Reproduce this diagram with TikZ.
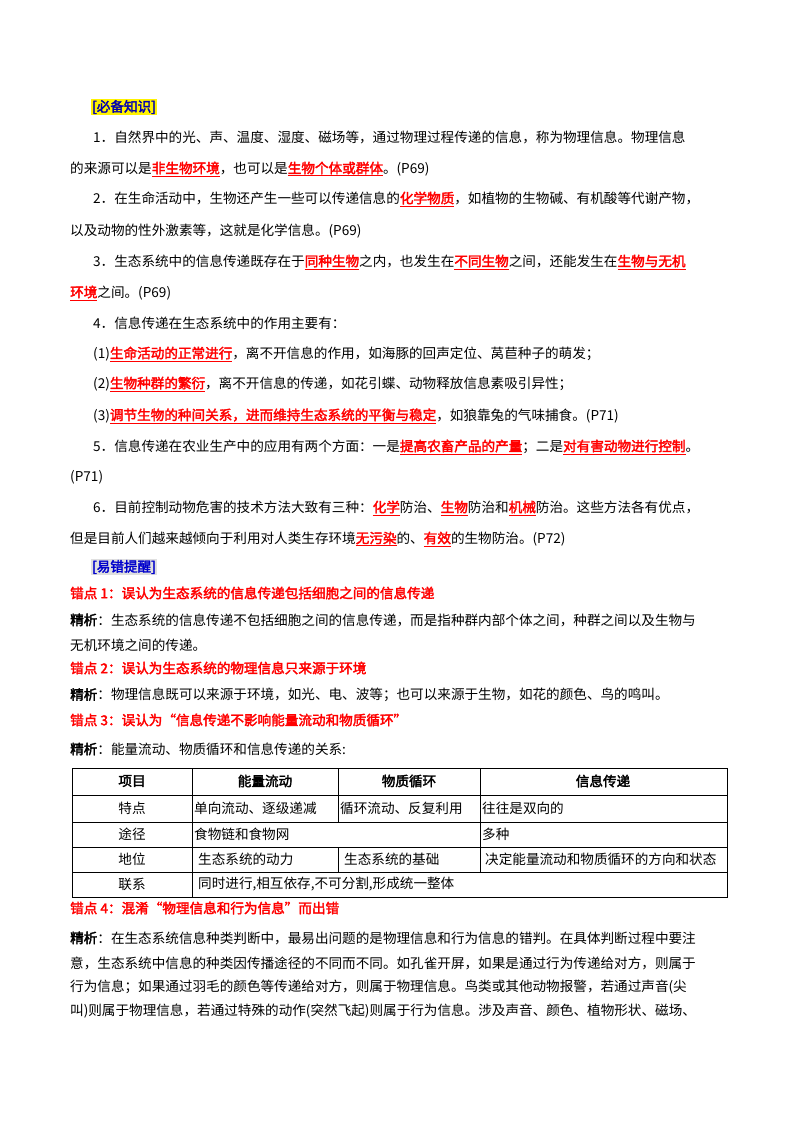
\documentclass[tikz,border=0pt]{standalone}
\usepackage{fontspec}
\setmainfont{Noto Sans CJK SC}[AutoFakeBold=2.5]
\XeTeXlinebreaklocale "zh"
\XeTeXlinebreakskip=0pt plus 2pt
\newcommand\kw[1]{\textcolor{red}{\underline{\textbf{#1}}}}
\newcommand\fl[2]{\makebox[#1pt][s]{#2}}
\begin{document}
\begin{tikzpicture}[x=1pt,y=-1pt,font=\fontsize{13.6}{16}\selectfont]
        \tikzstyle{every node}=[inner sep=0pt,anchor=west]
        \tikzstyle{err}=[text=red,font=\fontsize{13.6}{16}\selectfont\bfseries]
        \tikzstyle{cell}=[anchor=center]
        \tikzstyle{grid}=[line width=1pt]
        \useasboundingbox[fill=white] (0,0) rectangle (800,1132);

        % knowledge
        \node[fill=yellow,text=blue!70!black,font=\fontsize{13.6}{16}\selectfont\bfseries,inner sep=1pt] (h1) at (91,107) {[必备知识]};
        \node (a1) at (93,137) {\fl{634}{1．自然界中的光、声、温度、湿度、磁场等，通过物理过程传递的信息，称为物理信息。物理信息}};
        \node (a2) at (70,169) {的来源可以是\kw{非生物环境}，也可以是\kw{生物个体或群体}。(P69)};
        \node (b1) at (93,199) {\fl{638}{2．在生命活动中，生物还产生一些可以传递信息的\kw{化学物质}，如植物的生物碱、有机酸等代谢产物，}};
        \node (b2) at (70,231) {以及动物的性外激素等，这就是化学信息。(P69)};
        \node (c1) at (93,262) {\fl{634}{3．生态系统中的信息传递既存在于\kw{同种生物}之内，也发生在\kw{不同生物}之间，还能发生在\kw{生物与无机}}};
        \node (c2) at (70,293) {\kw{环境}之间。(P69)};
        \node (d1) at (93,323) {4．信息传递在生态系统中的作用主要有：};
        \node (d2) at (93,354) {(1)\kw{生命活动的正常进行}，离不开信息的作用，如海豚的回声定位、莴苣种子的萌发；};
        \node (d3) at (93,384) {(2)\kw{生物种群的繁衍}，离不开信息的传递，如花引蝶、动物释放信息素吸引异性；};
        \node (d4) at (93,416) {(3)\kw{调节生物的种间关系，进而维持生态系统的平衡与稳定}，如狼靠兔的气味捕食。(P71)};
        \node (e1) at (93,447) {\fl{638}{5．信息传递在农业生产中的应用有两个方面：一是\kw{提高农畜产品的产量}；二是\kw{对有害动物进行控制}。}};
        \node (e2) at (70,477) {(P71)};
        \node (f1) at (93,508) {\fl{638}{6．目前控制动物危害的技术方法大致有三种：\kw{化学}防治、\kw{生物}防治和\kw{机械}防治。这些方法各有优点，}};
        \node (f2) at (70,539) {但是目前人们越来越倾向于利用对人类生存环境\kw{无污染}的、\kw{有效}的生物防治。(P72)};

        % mistakes
        \node[fill=gray!25,text=blue!80!black,font=\fontsize{13.6}{16}\selectfont\bfseries,inner sep=1pt] (h2) at (91,567) {[易错提醒]};
        \node[err] (m1) at (70,593) {错点 1：误认为生态系统的信息传递包括细胞之间的信息传递};
        \node (m1a) at (70,620) {\fl{657}{\textbf{精析}：生态系统的信息传递不包括细胞之间的信息传递，而是指种群内部个体之间，种群之间以及生物与}};
        \node (m1b) at (70,645) {无机环境之间的传递。};
        \node[err] (m2) at (70,668) {错点 2：误认为生态系统的物理信息只来源于环境};
        \node (m2a) at (70,695) {\textbf{精析}：物理信息既可以来源于环境，如光、电、波等；也可以来源于生物，如花的颜色、鸟的鸣叫。};
        \node[err] (m3) at (70,720) {错点 3：误认为“信息传递不影响能量流动和物质循环”};
        \node (m3a) at (70,749) {\textbf{精析}：能量流动、物质循环和信息传递的关系:};

        % table
        \draw[grid] (72,768) rectangle (727,897);
        \foreach \y in {795,822,847,872} \draw[grid] (72,\y) -- (727,\y);
        \draw[grid] (192,768) -- (192,897);
        \draw[grid] (338,768) -- (338,795) (338,795) -- (338,822) (338,847) -- (338,872);
        \draw[grid] (480,768) -- (480,872);
        \node[cell,font=\fontsize{13.6}{16}\selectfont\bfseries] (t0) at (132,781) {项目};
        \node[cell,font=\fontsize{13.6}{16}\selectfont\bfseries] (t1) at (265,781) {能量流动};
        \node[cell,font=\fontsize{13.6}{16}\selectfont\bfseries] (t2) at (409,781) {物质循环};
        \node[cell,font=\fontsize{13.6}{16}\selectfont\bfseries] (t3) at (603,781) {信息传递};
        \node[cell] (r1) at (132,808) {特点};
        \node (r1a) at (194,808) {单向流动、逐级递减};
        \node (r1b) at (340,808) {循环流动、反复利用};
        \node (r1c) at (482,808) {往往是双向的};
        \node[cell] (r2) at (132,834) {途径};
        \node (r2a) at (194,834) {食物链和食物网};
        \node (r2c) at (482,834) {多种};
        \node[cell] (r3) at (132,859) {地位};
        \node (r3a) at (198,859) {生态系统的动力};
        \node (r3b) at (344,859) {生态系统的基础};
        \node (r3c) at (485,859) {决定能量流动和物质循环的方向和状态};
        \node[cell] (r4) at (132,884) {联系};
        \node (r4a) at (198,884) {同时进行,相互依存,不可分割,形成统一整体};

        \node[err] (m4) at (70,908) {错点 4：混淆“物理信息和行为信息”而出错};
        \node (m4a) at (70,938) {\fl{657}{\textbf{精析}：在生态系统信息种类判断中，最易出问题的是物理信息和行为信息的错判。在具体判断过程中要注}};
        \node (m4b) at (70,963) {\fl{657}{意，生态系统中信息的种类因传播途径的不同而不同。如孔雀开屏，如果是通过行为传递给对方，则属于}};
        \node (m4c) at (70,987) {\fl{657}{行为信息；如果通过羽毛的颜色等传递给对方，则属于物理信息。鸟类或其他动物报警，若通过声音(尖}};
        \node (m4d) at (70,1011) {\fl{657}{叫)则属于物理信息，若通过特殊的动作(突然飞起)则属于行为信息。涉及声音、颜色、植物形状、磁场、}};
\end{tikzpicture}
\end{document}
